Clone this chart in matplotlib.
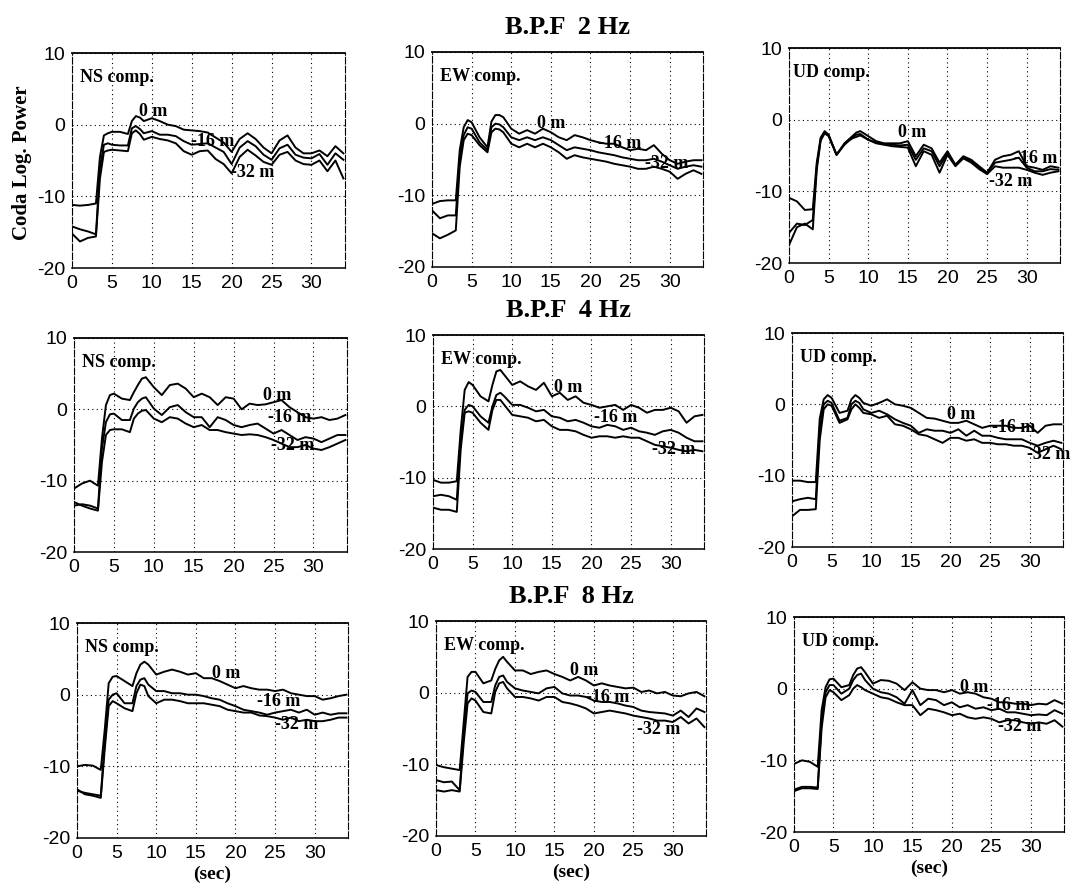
import matplotlib
matplotlib.use("Agg")
import matplotlib.pyplot as plt

plt.rcParams['axes.unicode_minus'] = False
plt.rcParams['font.family'] = ['Liberation Sans', 'DejaVu Sans']

W, H = 1072, 893

# time samples (sec), shared by every curve
T = [0, 1, 2, 3, 3.5, 4, 4.5, 5, 6, 7, 7.5, 8, 8.5, 9,
     10, 11, 12, 13, 14, 15, 16, 17, 18, 19, 20, 21, 22, 23, 24,
     25, 26, 27, 28, 29, 30, 31, 32, 33, 34]

depths = ['0 m', '-16 m', '-32 m']
components = ['NS comp.', 'EW comp.', 'UD comp.']
bands = ['B.P.F  2 Hz', 'B.P.F  4 Hz', 'B.P.F  8 Hz']

# ---- 2 Hz
ns2_0 = [-11.2, -11.3, -11.2, -11.0, -4.5, -1.5, -1.2, -1.0, -1.0, -1.3, 0.5, 1.2, 1.0, 0.5,
         0.9, 0.5, 0.0, -0.2, -0.7, -0.8, -0.9, -1.1, -1.8, -2.5, -3.8, -2.0, -1.2, -2.0, -3.2,
         -4.0, -2.2, -1.5, -3.2, -4.0, -4.0, -3.6, -4.4, -3.0, -4.0]
ns2_16 = [-14.2, -14.6, -14.9, -15.3, -6.0, -2.8, -2.6, -2.8, -2.9, -2.9, -0.5, -0.2, -0.6, -1.2,
          -0.9, -1.4, -1.4, -1.6, -2.3, -2.8, -2.7, -2.6, -3.2, -3.8, -5.5, -3.2, -2.3, -3.0, -4.2,
          -4.9, -3.3, -2.8, -4.2, -4.6, -4.7, -4.1, -5.6, -4.0, -4.9]
ns2_32 = [-15.2, -16.3, -15.8, -15.6, -7.5, -3.8, -3.6, -3.5, -3.6, -3.7, -1.2, -0.8, -1.3, -2.1,
          -1.7, -2.0, -2.2, -2.6, -3.7, -4.2, -3.7, -3.6, -4.8, -5.5, -6.8, -4.5, -3.5, -4.3, -5.2,
          -5.6, -4.2, -3.8, -5.0, -5.5, -5.6, -5.0, -6.5, -5.0, -7.5]

ew2_0 = [-11.2, -10.8, -10.7, -10.7, -3.7, -0.5, 0.5, 0.2, -1.9, -3.3, 0.3, 1.2, 1.2, 0.9,
         -0.7, -1.4, -0.9, -1.4, -0.7, -1.2, -1.9, -2.3, -1.6, -1.9, -2.3, -2.6, -2.8, -2.8, -3.3,
         -3.7, -3.5, -3.7, -3.0, -4.2, -5.1, -5.6, -5.3, -5.1, -5.1]
ew2_16 = [-12.1, -13.2, -12.8, -12.8, -4.7, -1.6, -0.5, -0.7, -2.6, -3.7, -0.5, 0.0, -0.1, -0.5,
          -1.9, -2.3, -1.9, -2.3, -1.9, -2.3, -3.0, -3.7, -3.3, -3.5, -3.7, -4.0, -4.2, -4.4, -4.7,
          -4.9, -5.1, -5.1, -4.9, -5.3, -5.8, -6.3, -6.0, -5.8, -6.0]
ew2_32 = [-15.3, -16.0, -15.5, -14.9, -6.0, -2.3, -1.4, -1.6, -3.0, -4.0, -1.2, -0.7, -0.8, -1.2,
          -2.8, -3.3, -2.8, -3.3, -2.8, -3.3, -4.0, -4.9, -4.4, -4.7, -4.9, -5.1, -5.3, -5.6, -5.8,
          -6.0, -6.3, -6.3, -6.0, -6.3, -6.7, -7.7, -7.0, -6.5, -7.0]

ud2_0 = [-10.9, -11.4, -12.6, -12.5, -6.0, -2.5, -1.6, -2.1, -4.9, -3.3, -2.8, -2.3, -1.8, -1.6,
         -2.3, -3.0, -3.3, -3.3, -3.3, -3.0, -5.1, -3.5, -4.0, -6.0, -4.4, -6.3, -5.1, -5.6, -6.5,
         -7.4, -5.6, -5.1, -4.9, -4.4, -6.5, -6.7, -7.0, -6.5, -6.7]
ud2_16 = [-15.8, -14.5, -14.7, -14.0, -6.5, -2.7, -1.8, -2.2, -4.9, -3.4, -2.9, -2.5, -2.1, -2.0,
          -2.8, -3.2, -3.4, -3.5, -3.6, -3.5, -5.6, -4.0, -4.4, -6.5, -4.7, -6.3, -5.3, -5.8, -6.7,
          -7.4, -6.0, -5.8, -5.6, -5.3, -6.7, -7.2, -7.2, -6.9, -7.0]
ud2_32 = [-17.5, -15.0, -14.5, -15.3, -7.0, -2.9, -1.9, -2.3, -4.9, -3.5, -3.0, -2.6, -2.4, -2.2,
          -2.8, -3.3, -3.5, -3.7, -3.8, -3.9, -6.5, -4.4, -4.9, -7.4, -4.9, -6.5, -5.4, -6.0, -6.9,
          -7.6, -6.5, -6.7, -6.7, -6.7, -7.0, -7.4, -7.7, -7.4, -7.2]

# ---- 4 Hz
ns4_0 = [-11.1, -10.4, -10.0, -10.7, -4.1, 0.6, 2.0, 2.2, 1.5, 1.3, 2.4, 3.4, 4.3, 4.5,
         3.1, 2.0, 3.4, 3.6, 2.9, 1.7, 2.2, 1.7, 0.6, 1.7, 1.5, 0.0, 0.8, 0.6, 0.7,
         1.0, 1.3, 0.3, -0.4, -1.1, -1.3, -1.1, -1.5, -1.3, -0.8]
ns4_16 = [-13.5, -13.3, -13.5, -13.9, -5.5, -1.8, -0.7, -0.6, -1.5, -1.5, 0.1, 1.0, 1.5, 1.7,
          0.1, -0.8, 0.3, 0.6, -0.4, -1.1, -1.1, -2.5, -1.1, -1.5, -2.2, -2.5, -2.2, -2.0, -2.7,
          -3.4, -2.9, -3.6, -4.3, -3.9, -4.1, -4.6, -4.1, -3.6, -3.6]
ns4_32 = [-13.0, -13.5, -13.9, -14.2, -7.4, -3.6, -2.9, -2.8, -2.8, -3.2, -1.3, -0.6, -0.2, -0.1,
          -1.3, -1.8, -1.1, -1.3, -2.0, -2.5, -2.2, -2.9, -2.9, -3.2, -3.4, -3.6, -3.5, -3.6, -3.9,
          -4.3, -4.8, -5.3, -5.3, -5.0, -5.5, -5.7, -5.3, -4.8, -4.3]

ew4_0 = [-10.3, -10.7, -10.7, -10.5, -3.3, 2.3, 3.4, 3.0, 1.4, 0.7, 3.0, 4.9, 5.1, 4.4,
         3.0, 3.5, 2.8, 2.3, 3.3, 1.4, 1.9, 0.9, 1.4, 0.5, 0.2, -0.2, 0.0, 0.2, -0.5,
         0.2, -0.2, -0.9, -0.5, -0.5, -0.2, -0.7, -2.3, -1.4, -1.2]
ew4_16 = [-12.6, -12.4, -12.6, -13.1, -4.7, -0.5, 0.2, 0.0, -1.4, -2.3, 0.0, 1.6, 1.9, 1.4,
          0.2, 0.2, -0.2, -0.7, -0.5, -1.4, -1.6, -2.1, -1.9, -2.3, -2.8, -3.0, -2.6, -2.8, -3.3,
          -3.0, -3.5, -3.7, -4.0, -3.5, -3.3, -3.7, -4.4, -4.9, -4.9]
ew4_32 = [-14.2, -14.5, -14.5, -14.8, -6.0, -0.9, -0.7, -0.9, -2.3, -3.3, -0.5, 0.9, 0.9, 0.2,
          -1.2, -1.4, -1.6, -2.1, -1.9, -2.8, -3.3, -3.3, -3.5, -4.0, -4.4, -4.2, -4.2, -4.4, -4.2,
          -4.4, -4.4, -4.9, -5.4, -5.6, -5.8, -6.1, -6.3, -6.1, -6.3]

ud4_0 = [-10.7, -10.7, -10.9, -10.9, -2.0, 0.7, 1.3, 0.9, -1.2, -0.9, 0.7, 1.3, 0.9, 0.2,
         -0.2, 0.2, 0.7, 0.0, -0.2, -0.5, -1.2, -1.9, -2.0, -2.3, -2.6, -2.6, -2.3, -2.8, -3.3,
         -3.0, -3.0, -3.0, -3.3, -3.3, -3.0, -4.0, -3.0, -2.8, -2.8]
ud4_16 = [-13.6, -13.3, -13.1, -13.3, -3.5, 0.0, 0.5, 0.2, -2.3, -1.9, 0.0, 0.5, 0.2, -0.7,
          -1.2, -0.9, -1.4, -2.1, -2.6, -3.0, -4.0, -3.5, -3.7, -3.7, -4.0, -3.5, -4.4, -3.7, -4.4,
          -4.4, -4.7, -4.9, -4.9, -4.9, -5.4, -5.8, -5.4, -5.1, -5.4]
ud4_32 = [-15.7, -14.8, -14.8, -14.7, -5.0, -0.7, 0.0, -0.2, -2.6, -2.1, -0.7, 0.0, -0.5, -1.2,
          -1.4, -1.9, -1.6, -2.8, -3.0, -3.5, -4.2, -4.4, -4.9, -5.4, -4.7, -4.7, -5.1, -4.9, -5.4,
          -5.4, -5.6, -5.6, -5.8, -5.8, -6.1, -6.8, -6.3, -5.8, -6.3]

# ---- 8 Hz
ns8_0 = [-10.0, -9.8, -9.9, -10.5, -4.9, 1.6, 2.5, 2.6, 1.9, 1.2, 3.0, 4.2, 4.6, 4.2,
         2.8, 3.2, 3.5, 3.2, 2.8, 3.0, 2.3, 2.3, 1.9, 1.4, 0.9, 1.2, 0.9, 0.7, 0.7,
         0.5, 0.7, 0.2, 0.0, -0.2, -0.2, -0.7, -0.5, -0.2, 0.0]
ns8_16 = [-13.4, -13.7, -13.9, -14.1, -6.7, -0.7, 0.0, 0.2, -1.2, -1.2, 1.2, 2.1, 2.3, 1.4,
          0.5, 0.5, 0.2, 0.2, 0.0, 0.0, -0.2, -0.5, -0.7, -1.2, -1.6, -2.1, -2.3, -2.5, -2.8,
          -2.5, -2.3, -2.1, -2.5, -2.1, -2.8, -2.5, -2.8, -2.6, -2.6]
ns8_32 = [-13.2, -13.9, -14.1, -14.4, -7.6, -1.6, -0.9, -1.2, -1.9, -2.3, 0.2, 1.4, 1.2, -0.2,
          -1.2, -0.7, -0.7, -0.9, -1.2, -1.2, -1.2, -1.4, -1.6, -2.1, -2.3, -2.5, -2.5, -2.9, -3.0,
          -3.2, -3.5, -3.2, -3.7, -3.5, -3.7, -3.7, -3.5, -3.2, -3.2]

ew8_0 = [-10.1, -10.4, -10.6, -10.8, -4.3, 2.2, 2.9, 2.9, 1.3, 1.7, 3.3, 4.5, 5.0, 4.3,
         3.1, 3.1, 2.6, 2.9, 3.1, 2.6, 2.2, 1.7, 2.2, 1.7, 1.0, 1.3, 1.0, 0.8, 0.6,
         0.7, 0.1, 0.3, -0.1, 0.1, -0.4, -0.5, -0.1, 0.1, -0.5]
ew8_16 = [-12.2, -12.5, -12.4, -13.6, -5.7, -0.1, 0.3, 0.1, -1.3, -1.3, 1.0, 2.2, 2.4, 1.5,
          0.6, 0.3, 0.1, -0.1, 0.6, 0.8, -0.1, -0.4, -0.4, -0.6, -1.1, -1.3, -1.3, -1.5, -1.8,
          -2.0, -2.5, -2.7, -2.8, -2.9, -3.2, -2.5, -3.4, -2.2, -2.7]
ew8_32 = [-13.6, -13.8, -13.6, -13.8, -7.1, -1.5, -0.8, -1.1, -2.7, -2.9, 0.1, 1.3, 1.5, 0.6,
          -0.6, -0.6, -0.8, -1.1, -0.6, -0.6, -1.3, -1.5, -1.8, -2.2, -2.9, -2.7, -2.5, -2.7, -2.9,
          -3.2, -3.4, -3.6, -3.9, -3.9, -4.1, -3.4, -4.3, -3.6, -4.8]

ud8_0 = [-10.5, -10.0, -10.2, -10.9, -3.0, 0.2, 1.3, 1.4, 0.2, 0.5, 1.9, 2.8, 3.0, 2.3,
         0.7, 1.2, 1.1, 0.7, -0.2, 0.9, 0.0, -0.2, -0.2, -0.5, -0.2, -0.7, -0.5, -0.7, -1.2,
         -1.4, -1.9, -1.9, -2.1, -2.1, -2.3, -2.1, -2.2, -1.6, -2.1]
ud8_16 = [-14.1, -13.7, -13.7, -13.8, -4.5, -0.5, 0.5, 0.5, -0.7, 0.0, 1.2, 1.9, 2.1, 1.2,
          0.0, -0.5, -0.7, -1.2, -2.1, -0.2, -2.3, -1.4, -1.6, -2.3, -1.9, -2.6, -2.3, -2.8, -2.6,
          -3.0, -2.8, -3.3, -3.3, -3.5, -3.7, -3.6, -3.7, -3.0, -3.5]
ud8_32 = [-14.3, -13.9, -13.9, -14.0, -5.5, -1.2, -0.2, -0.5, -1.6, -0.9, 0.0, 0.5, 0.2, -0.2,
          -0.7, -1.2, -1.4, -1.9, -2.3, -2.3, -3.7, -2.8, -3.0, -3.3, -3.7, -3.5, -4.0, -4.2, -4.0,
          -4.2, -4.7, -4.4, -4.4, -4.7, -4.9, -4.7, -4.9, -4.4, -5.3]

curves = [
    [(ns2_0, ns2_16, ns2_32), (ew2_0, ew2_16, ew2_32), (ud2_0, ud2_16, ud2_32)],
    [(ns4_0, ns4_16, ns4_32), (ew4_0, ew4_16, ew4_32), (ud4_0, ud4_16, ud4_32)],
    [(ns8_0, ns8_16, ns8_32), (ew8_0, ew8_16, ew8_32), (ud8_0, ud8_16, ud8_32)],
]

# axes boxes in pixels: left, top, right, bottom
boxes = [
    [(72, 53, 345, 268), (432, 52, 703, 267), (789, 48, 1060, 263)],
    [(74, 338, 347, 552), (433, 335, 704, 549), (792, 333, 1063, 547)],
    [(77, 623, 348, 838), (436, 621, 706, 836), (794, 617, 1064, 832)],
]

# where the depth labels sit (left edge x, centre y) in data units
label_pos = [
    [[(8.4, 1.9), (14.9, -2.3), (19.9, -6.7)],
     [(13.2, 0.0), (21.0, -2.8), (26.9, -5.5)],
     [(13.7, -1.8), (28.4, -5.4), (25.2, -8.6)]],
    [[(23.7, 1.9), (24.3, -1.1), (24.7, -5.0)],
     [(15.3, 2.6), (20.3, -1.6), (27.6, -6.1)],
     [(19.5, -1.4), (25.2, -3.3), (29.6, -7.0)]],
    [[(17.0, 3.0), (22.7, -0.9), (25.0, -4.2)],
     [(17.0, 3.1), (19.0, -0.7), (25.5, -5.2)],
     [(21.0, 0.2), (24.5, -2.3), (25.8, -5.3)]],
]

serif = ['Liberation Serif', 'DejaVu Serif']

fig = plt.figure(figsize=(W / 100, H / 100), dpi=100)

for r in range(3):
    for c in range(3):
        l, t, rr, b = boxes[r][c]
        ax = fig.add_axes([l / W, 1 - b / H, (rr - l) / W, (b - t) / H])
        for k, y in enumerate(curves[r][c]):
            ax.plot(T, y, color='black', lw=1.4)
            lx, ly = label_pos[r][c][k]
            ax.text(lx, ly, depths[k], family=serif, fontweight='bold', fontsize=13,
                    ha='left', va='center', clip_on=False)
        ax.set_xlim(0, 34.2)
        ax.set_ylim(-20, 10)
        ax.set_xticks([0, 5, 10, 15, 20, 25, 30])
        ax.set_yticks([-20, -10, 0, 10])
        ax.tick_params(length=0, labelsize=14, pad=5)
        ax.grid(True, color='black', linestyle=(0, (1, 3)), lw=0.8)
        for side in ['left', 'right']:
            ax.spines[side].set_linestyle((0, (6, 2)))
            ax.spines[side].set_linewidth(0.8)
        ax.spines['top'].set_linewidth(1.3)
        ax.spines['bottom'].set_linewidth(1.1)
        ax.text(0.5 if c == 2 and r == 0 else 1.0, 6.6, components[c], family=serif,
                fontweight='bold', fontsize=13, ha='left', va='center')
        if c == 1:
            ax.set_title(bands[r], family=serif, fontweight='bold', fontsize=19, pad=13)
        if r == 2:
            ax.set_xlabel('(sec)', family=serif, fontweight='bold', fontsize=14, labelpad=3)

fig.text(22 / W, 1 - 163 / H, 'Coda Log. Power', rotation=90, family=serif,
         fontweight='bold', fontsize=15, ha='center', va='center')

fig.savefig('out.png', dpi=100)
